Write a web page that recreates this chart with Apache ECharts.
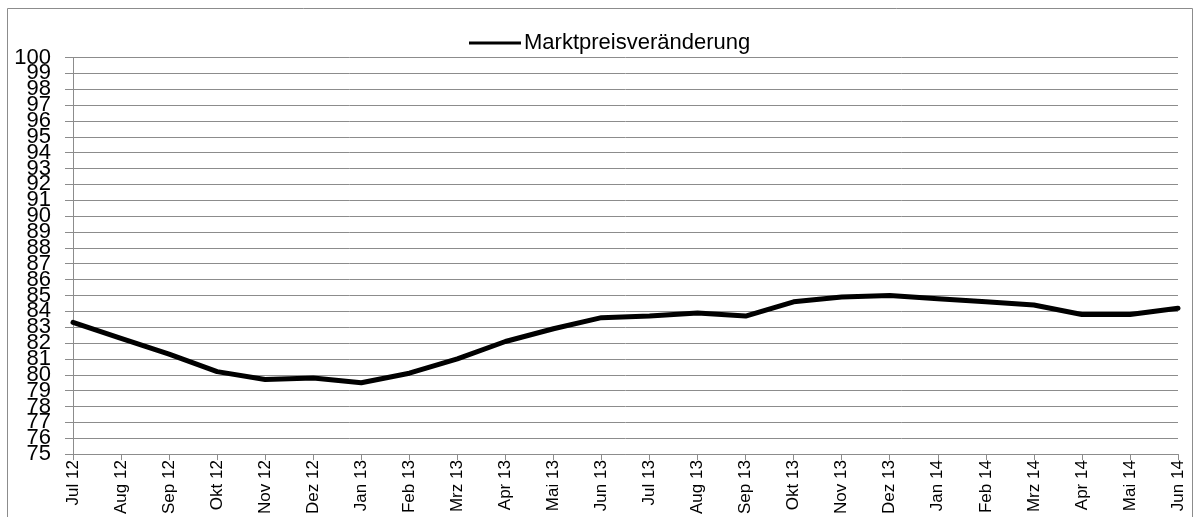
<!DOCTYPE html>
<html><head><meta charset="utf-8">
<script src="https://cdn.jsdelivr.net/npm/echarts@6/dist/echarts.min.js"></script>
<style>html,body{margin:0;padding:0;background:#fff}#c{width:1200px;height:517px}</style>
</head><body><div id="c"></div>
<script>
const categories = ["Jul 12","Aug 12","Sep 12","Okt 12","Nov 12","Dez 12","Jan 13","Feb 13","Mrz 13","Apr 13","Mai 13","Jun 13","Jul 13","Aug 13","Sep 13","Okt 13","Nov 13","Dez 13","Jan 14","Feb 14","Mrz 14","Apr 14","Mai 14","Jun 14"];
const seriesName = "Marktpreisveränderung";
const values = [83.3,82.3,81.3,80.2,79.7,79.8,79.5,80.1,81.0,82.1,82.9,83.6,83.7,83.9,83.7,84.6,84.9,85.0,84.8,84.6,84.4,83.8,83.8,84.2];
const yTickLabels = ["75","76","77","78","79","80","81","82","83","84","85","86","87","88","89","90","91","92","93","94","95","96","97","98","99","100"];
const yMin = 75, yMax = 100, yStep = 1;

const chart = echarts.init(document.getElementById('c'));
chart.setOption({
  animation: false,
  backgroundColor: '#fff',
  textStyle: { fontFamily: 'Liberation Sans', color: '#000' },
  graphic: [{ type: 'rect', shape: { x: 7.5, y: 8.5, width: 1185, height: 520 }, style: { fill: 'none', stroke: '#8c8c8c', lineWidth: 1 }, silent: true }],
  legend: {
    left: 464, top: 27, itemWidth: 52, itemHeight: 14, itemGap: 4,
    icon: 'path://M0,5.5 L52,5.5 L52,8.5 L0,8.5 Z',
    textStyle: { fontSize: 22, color: '#000', fontFamily: 'Liberation Sans', padding: [0,0,0,-2] },
    data: [seriesName]
  },
  grid: { left: 73, right: 22, top: 57.5, bottom: 62, containLabel: false },
  xAxis: {
    type: 'category', data: categories, boundaryGap: false,
    axisLine: { lineStyle: { color: '#8c8c8c', width: 1 } },
    axisTick: { show: true, length: 6, interval: 0, lineStyle: { color: '#8c8c8c' } },
    axisLabel: { rotate: 90, interval: 0, fontSize: 17, color: '#000', margin: 6, fontFamily: 'Liberation Sans' },
    splitLine: { show: false }
  },
  yAxis: [{
    type: 'value', min: yMin, max: yMax, interval: yStep,
    axisLine: { show: true, lineStyle: { color: '#8c8c8c', width: 1 } },
    axisTick: { show: true, length: 8, lineStyle: { color: '#8c8c8c' } },
    axisLabel: { show: false },
    splitLine: { show: true, lineStyle: { color: '#8c8c8c', width: 1 } }
  }, {
    type: 'category', data: yTickLabels, boundaryGap: false, position: 'left',
    axisLine: { show: false }, axisTick: { show: false }, splitLine: { show: false },
    axisLabel: { interval: 0, fontSize: 22, color: '#000', margin: 22, fontFamily: 'Liberation Sans' }
  }],
  series: [{
    name: seriesName, type: 'line', data: values, symbol: 'none', yAxisIndex: 0,
    lineStyle: { color: '#000', width: 5, cap: 'round', join: 'round' },
    itemStyle: { color: '#000' }
  }]
});
</script></body></html>
